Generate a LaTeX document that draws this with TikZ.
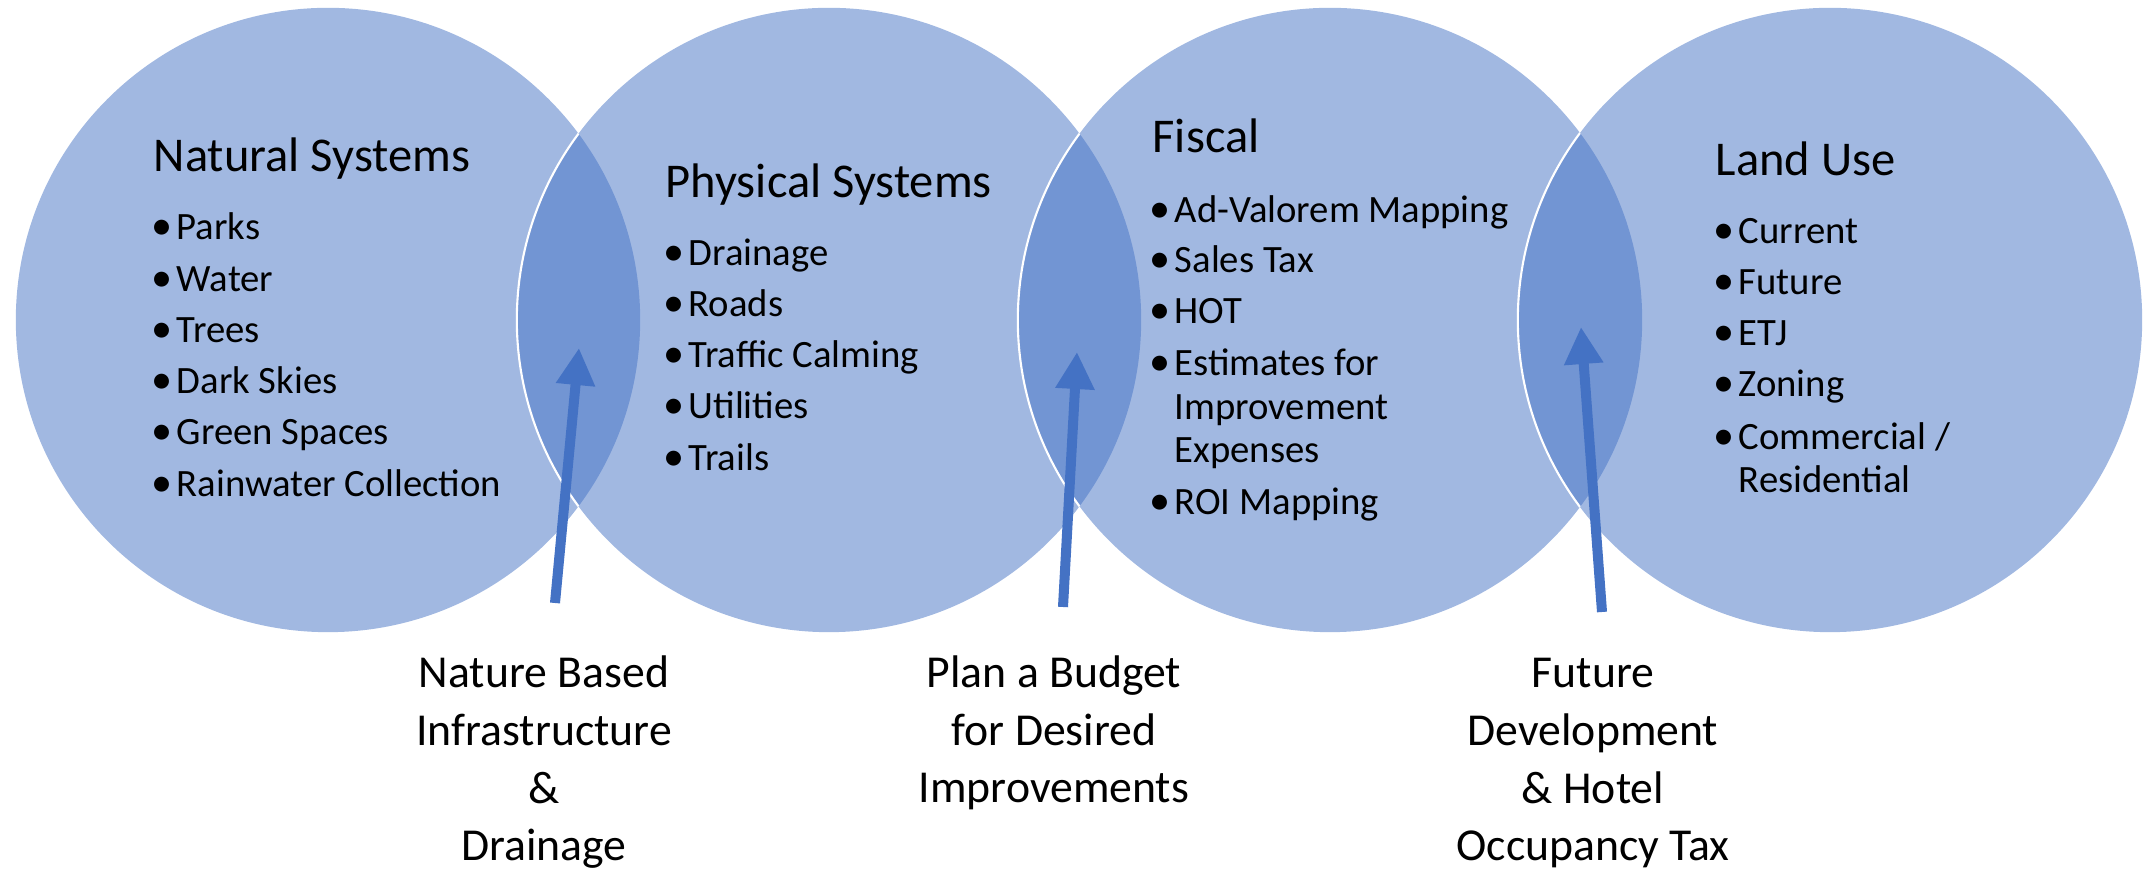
\documentclass[tikz,border=0pt]{standalone}
\usepackage{fontspec}
\setmainfont{Carlito}
\usepackage{tikz}
\usetikzlibrary{arrows.meta,positioning}
\definecolor{vennblue}{RGB}{68,114,196}
\tikzstyle{venn} = [fill=vennblue, fill opacity=0.5]
\tikzstyle{rim} = [draw=white, line width=0.6pt]
\tikzstyle{arrow} = [line width=0.1cm, color=vennblue, -{Triangle[width=0.37cm,length=0.37cm]}]
\tikzstyle{head} = [anchor=base west, inner sep=0pt, font=\fontsize{13.8}{16}\selectfont]
\tikzstyle{item} = [anchor=base west, inner sep=0pt, align=left, font=\fontsize{11}{12.5}\selectfont]
\tikzstyle{note} = [anchor=base, inner sep=0pt, align=center, font=\fontsize{13}{16.4}\selectfont]
\newcommand{\bul}{\makebox[0.21cm][l]{\hspace*{-0.04cm}{\fontsize{12}{12}\selectfont\textbullet}}}
\newcommand{\ind}{\hspace*{0.21cm}}

\begin{document}
\begin{tikzpicture}[x=0.01cm, y=-0.01cm]
\useasboundingbox (0,0) rectangle (2148,871);

% Circles
\coordinate (natural) at (328,320);
\coordinate (physical) at (829,320);
\coordinate (fiscal) at (1330,320);
\coordinate (landuse) at (1830,320);
\fill[venn] (natural) circle[radius=3.12cm];
\fill[venn] (physical) circle[radius=3.12cm];
\fill[venn] (fiscal) circle[radius=3.12cm];
\fill[venn] (landuse) circle[radius=3.12cm];

% white rims inside the overlaps
\begin{scope}
\clip (natural) circle[radius=3.12cm];
\draw[rim] (physical) circle[radius=3.12cm];
\end{scope}
\begin{scope}
\clip (physical) circle[radius=3.12cm];
\draw[rim] (fiscal) circle[radius=3.12cm];
\end{scope}
\begin{scope}
\clip (fiscal) circle[radius=3.12cm];
\draw[rim] (landuse) circle[radius=3.12cm];
\end{scope}

% Natural Systems
\node[head] (naturalhead) at (153,172) {Natural Systems};
\node[item] (nat1) at (155,240) {\bul Parks};
\node[item] (nat2) at (155,292) {\bul Water};
\node[item] (nat3) at (155,343) {\bul Trees};
\node[item] (nat4) at (155,394) {\bul Dark Skies};
\node[item] (nat5) at (155,445) {\bul Green Spaces};
\node[item] (nat6) at (155,497) {\bul Rainwater Collection};

% Physical Systems
\node[head] (physicalhead) at (665,198) {Physical Systems};
\node[item] (phy1) at (667,266) {\bul Drainage};
\node[item] (phy2) at (667,317) {\bul Roads};
\node[item] (phy3) at (667,368) {\bul Traffic Calming};
\node[item] (phy4) at (667,419) {\bul Utilities};
\node[item] (phy5) at (667,471) {\bul Trails};

% Fiscal (base of a wrapped item is its last line)
\node[head] (fiscalhead) at (1152,153) {Fiscal};
\node[item] (fis1) at (1153,223) {\bul Ad-Valorem Mapping};
\node[item] (fis2) at (1153,273) {\bul Sales Tax};
\node[item] (fis3) at (1153,324) {\bul HOT};
\node[item] (fis4) at (1153,463) {\bul Estimates for\\\ind Improvement\\\ind Expenses};
\node[item] (fis5) at (1153,515) {\bul ROI Mapping};

% Land Use
\node[head] (landusehead) at (1715,176) {Land Use};
\node[item] (lan1) at (1717,244) {\bul Current};
\node[item] (lan2) at (1717,295) {\bul Future};
\node[item] (lan3) at (1717,346) {\bul ETJ};
\node[item] (lan4) at (1717,397) {\bul Zoning};
\node[item] (lan5) at (1717,493) {\bul Commercial /\\\ind Residential};

% Links between the systems
\node[note] (nbi) at (544,861) {Nature Based\\Infrastructure\\\&\\Drainage};
\node[note] (budget) at (1054,803) {Plan a Budget\\for Desired\\Improvements};
\node[note] (future) at (1593,861) {Future\\Development\\\& Hotel\\Occupancy Tax};

\coordinate (nbitail) at (555,603);
\coordinate (nbitip) at (579,348);
\coordinate (budgettail) at (1063,607);
\coordinate (budgettip) at (1077,352);
\coordinate (futuretail) at (1602,612);
\coordinate (futuretip) at (1581,327);
\draw[arrow] (nbitail) -- (nbitip);
\draw[arrow] (budgettail) -- (budgettip);
\draw[arrow] (futuretail) -- (futuretip);
\end{tikzpicture}
\end{document}
